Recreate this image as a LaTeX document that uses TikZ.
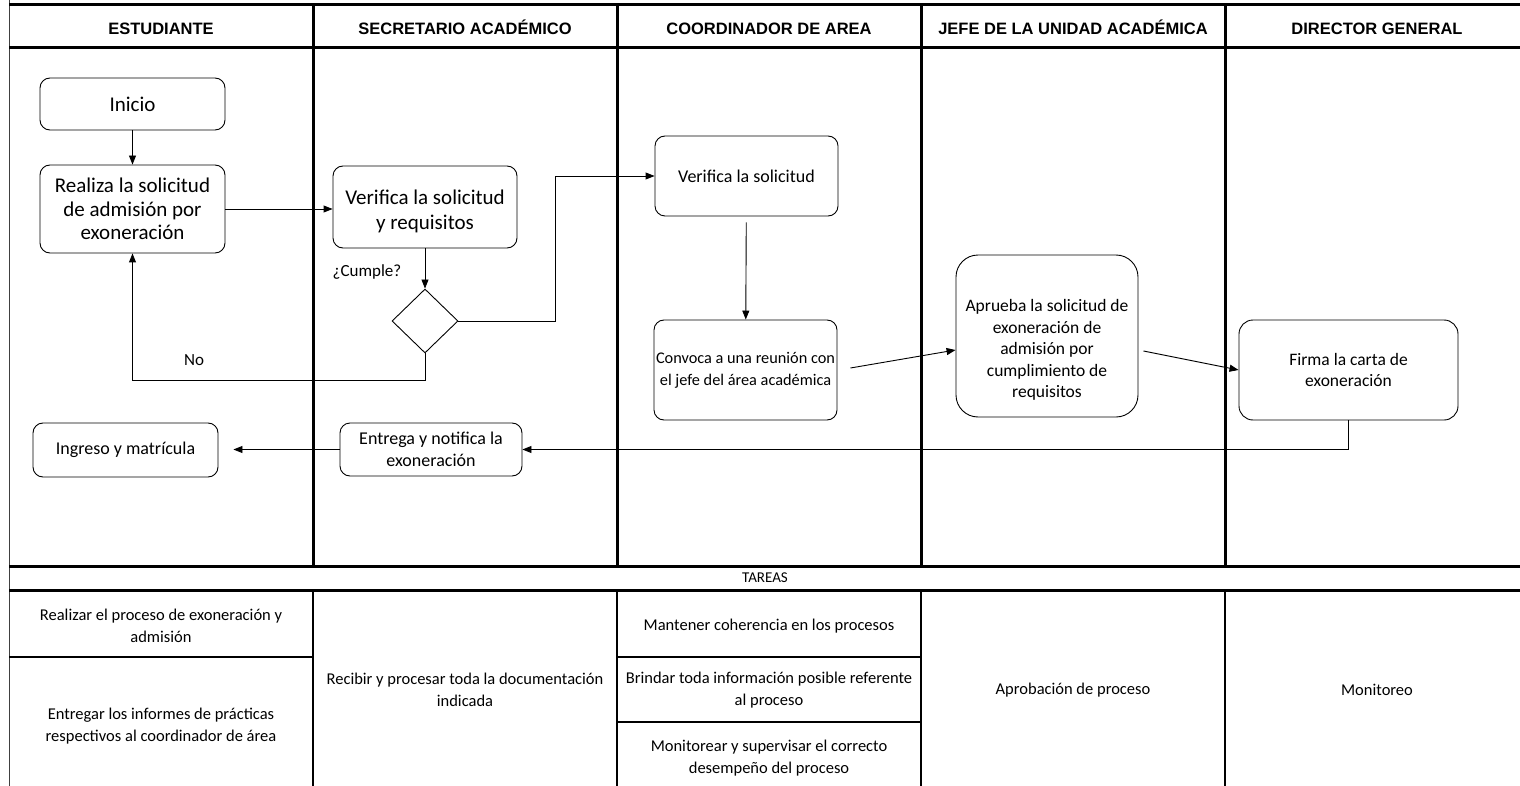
\documentclass[tikz,border=0pt]{standalone}
\usepackage{fontspec}
\setmainfont{Carlito}
\newfontfamily\headfont{Liberation Sans}
\usetikzlibrary{shapes.geometric,arrows.meta}

\begin{document}
\begin{tikzpicture}[x=1pt,y=-1pt,
  laneline/.style={line width=3pt},
  cellline/.style={line width=1.8pt},
  proc/.style={draw, rounded corners=10pt, line width=0.9pt, align=center,
    inner sep=2pt, font=\fontsize{17.5}{21.5}\selectfont},
  decision/.style={draw, diamond, line width=0.9pt, inner sep=0pt,
    minimum width=66pt, minimum height=64pt},
  flow/.style={line width=0.9pt, -{Triangle[length=9pt,width=7pt]}},
  head/.style={anchor=base, font=\headfont\bfseries\fontsize{16.5}{19}\selectfont},
  task/.style={align=center, font=\fontsize{16.5}{22}\selectfont},
  note/.style={font=\fontsize{17}{20}\selectfont}
]
\useasboundingbox (0,0) rectangle (1520,786);
\fill[white] (0,0) rectangle (1520,786);

% frame of the swimlane table
\draw[line width=1pt, black!75] (9,0) -- (9,786);
\draw[laneline] (9,5) -- (1520,5);
\draw[laneline] (9,48) -- (1520,48);
\draw[laneline] (9,566) -- (1520,566);
\draw[laneline] (9,590) -- (1520,590);
\foreach \x in {313,617,921,1225} {
  \draw[laneline] (\x,5) -- (\x,566);
  \draw[cellline] (\x,590) -- (\x,786);
}
\draw[cellline] (9,657) -- (313,657);
\draw[cellline] (617,657) -- (921,657);
\draw[cellline] (617,722) -- (921,722);

% lane headers
\node[head] (h1) at (161,35) {ESTUDIANTE};
\node[head] (h2) at (465,35) {SECRETARIO ACADÉMICO};
\node[head] (h3) at (769,35) {COORDINADOR DE AREA};
\node[head] (h4) at (1073,35) {JEFE DE LA UNIDAD ACADÉMICA};
\node[head] (h5) at (1377,35) {DIRECTOR GENERAL};

% process steps
\node[proc, minimum width=185pt, minimum height=52pt, font=\fontsize{21}{24}\selectfont] (inicio) at (132.5,104) {Inicio};
\node[proc, minimum width=185pt, minimum height=88pt, font=\fontsize{21}{23.5}\selectfont] (realiza) at (132.5,209)
  {Realiza la solicitud\\de admisión por\\exoneración};
\node[proc, minimum width=184pt, minimum height=82pt, font=\fontsize{21}{25}\selectfont] (verif1) at (425,207)
  {\rule{0pt}{23pt}Verifica la solicitud\\y requisitos};
\node[decision] (dec) at (425,321) {};
\node[note] (cumple) at (367,272) {¿Cumple?};
\node[note] (no) at (194,360) {No};
\node[proc, minimum width=183pt, minimum height=80pt, font=\fontsize{18}{22}\selectfont] (verif2) at (746.5,176) {Verifica la solicitud};
\node[proc, inner xsep=0pt, minimum width=183pt, minimum height=100pt, font=\fontsize{16.3}{22}\selectfont] (convoca) at (745.5,370)
  {Convoca a una reunión con\\el jefe del área académica};
% the approval box carries its text a little below its middle
\node[proc, rounded corners=22pt, minimum width=182pt, minimum height=162pt] (aprueba) at (1047,336) {};
\node[align=center, inner sep=0pt, font=\fontsize{17.5}{21.5}\selectfont] (apruebatxt) at (1047,350)
  {Aprueba la solicitud de\\exoneración de\\admisión por\\cumplimiento de\\requisitos};
\node[proc, rounded corners=14pt, minimum width=219pt, minimum height=100pt] (firma) at (1348.5,370)
  {Firma la carta de\\exoneración};
\node[proc, minimum width=182pt, minimum height=53pt, font=\fontsize{18}{22}\selectfont] (entrega) at (431,449.5)
  {Entrega y notifica la\\exoneración};
\node[proc, minimum width=185pt, minimum height=54pt, font=\fontsize{18}{22}\selectfont] (ingreso) at (125.5,450) {Ingreso y matrícula};

% connectors
\draw[flow] (inicio) -- (realiza);
\draw[flow] (realiza.east) -- (realiza.east -| verif1.west);
\draw[flow] (verif1) -- (dec);
\draw[flow] (dec.east) -- ++(97,0) |- (verif2.west);
\draw[flow] (dec.south) -- ++(0,27) -| (realiza.south);
\draw[flow, shorten <=6pt] (verif2) -- (convoca);
\draw[flow] ([xshift=13pt,yshift=2pt]convoca.east) -- ([yshift=-14pt]aprueba.west);
\draw[flow] ([xshift=5pt,yshift=-15pt]aprueba.east) -- (firma.west);
\draw[flow] (firma.south) |- (entrega.east);
\draw[flow, shorten >=15pt] (entrega.west) -- (entrega.west -| ingreso.east);

% task table
\node[task, font=\fontsize{15}{18}\selectfont] (tareas) at (765,578) {TAREAS};
\node[task] (t1a) at (161,626) {Realizar el proceso de exoneración y\\admisión};
\node[task] (t1b) at (161,726) {Entregar los informes de prácticas\\respectivos al coordinador de área};
\node[task] (t2) at (465,690) {Recibir y procesar toda la documentación\\indicada};
\node[task] (t3a) at (769,626) {Mantener coherencia en los procesos};
\node[task] (t3b) at (769,690) {Brindar toda información posible referente\\al proceso};
\node[task] (t3c) at (769,758) {Monitorear y supervisar el correcto\\desempeño del proceso};
\node[task] (t4) at (1073,690) {Aprobación de proceso};
\node[task] (t5) at (1377,690) {Monitoreo};
\end{tikzpicture}
\end{document}
